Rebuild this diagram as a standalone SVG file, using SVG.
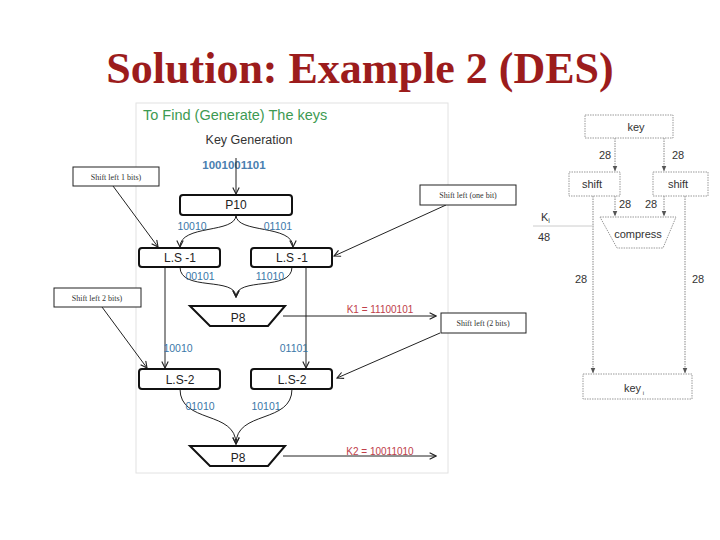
<svg xmlns="http://www.w3.org/2000/svg" width="720" height="540" viewBox="0 0 720 540">
<style>
.title{font-family:"Liberation Serif",serif;font-weight:bold;font-size:44px;fill:#9c1c1c}
.sans{font-family:"Liberation Sans",Arial,sans-serif}
.box{fill:#fff;stroke:#111;stroke-width:2}
.lbl{font-family:"Liberation Sans",Arial,sans-serif;font-size:12px;fill:#222}
.bits{font-family:"Liberation Sans",Arial,sans-serif;font-size:10.5px;fill:#3a78a8}
.key{font-family:"Liberation Sans",Arial,sans-serif;font-size:10px;fill:#c0404a}
.ann{fill:#fff;stroke:#222;stroke-width:1}
.annt{font-family:"Liberation Serif",serif;font-size:8px;fill:#333}
.ln{fill:none;stroke:#222;stroke-width:1}
.dl{fill:none;stroke:#888;stroke-width:1;stroke-dasharray:1.5 1}
.db{fill:#fff;stroke:#999;stroke-width:1;stroke-dasharray:1.5 1}
.rt{font-family:"Liberation Sans",Arial,sans-serif;font-size:11px;fill:#333}
</style>
<defs>
<marker id="ah" viewBox="0 0 10 10" refX="9" refY="5" markerWidth="8" markerHeight="8" orient="auto" markerUnits="userSpaceOnUse">
<path d="M1,1 L9,5 L1,9" fill="none" stroke="#222" stroke-width="1.4"/>
</marker>
<marker id="ahs" viewBox="0 0 10 10" refX="9" refY="5" markerWidth="6" markerHeight="6" orient="auto" markerUnits="userSpaceOnUse">
<path d="M0,1 L10,5 L0,9 Z" fill="#555"/>
</marker>
</defs>
<rect width="720" height="540" fill="#fff"/>
<text class="title" x="360" y="83" text-anchor="middle">Solution: Example 2 (DES)</text>

<g id="panel">
<rect x="136" y="103" width="312" height="370" fill="#fff" stroke="#e2e2e2" stroke-width="1"/>
<text x="143" y="120" class="sans" font-size="14.5" fill="#3d9a52">To Find (Generate) The keys</text>
<text x="249" y="144" class="sans" font-size="12.5" fill="#333" text-anchor="middle">Key Generation</text>
<text x="234" y="169" class="sans" font-size="11.5" font-weight="bold" fill="#4a80b0" text-anchor="middle">1001001101</text>
</g>

<g id="connectors">
<line class="ln" x1="236" y1="158" x2="236" y2="194" marker-end="url(#ah)"/>
<path class="ln" d="M236,215 C236,234 180,224 180,247" marker-end="url(#ah)"/>
<path class="ln" d="M236,215 C236,234 293,224 293,247" marker-end="url(#ah)"/>
<path class="ln" d="M180,267 C180,292 236,276 236,297" marker-end="url(#ah)"/>
<path class="ln" d="M292,267 C292,292 236,276 236,297" marker-end="url(#ah)"/>
<line class="ln" x1="165" y1="267" x2="165" y2="368" marker-end="url(#ah)"/>
<line class="ln" x1="306" y1="267" x2="306" y2="368" marker-end="url(#ah)"/>
<line class="ln" x1="283" y1="316" x2="436" y2="316" marker-end="url(#ah)"/>
<path class="ln" d="M180,389 C180,424 236,410 236,444" marker-end="url(#ah)"/>
<path class="ln" d="M292,389 C292,424 236,410 236,444" marker-end="url(#ah)"/>
<line class="ln" x1="283" y1="456" x2="436" y2="456" marker-end="url(#ah)"/>
<line class="ln" x1="113" y1="186" x2="158" y2="247" marker-end="url(#ah)"/>
<line class="ln" x1="446" y1="205" x2="334" y2="256" marker-end="url(#ah)"/>
<line class="ln" x1="102" y1="307" x2="147" y2="368" marker-end="url(#ah)"/>
<line class="ln" x1="440" y1="333" x2="337" y2="378" marker-end="url(#ah)"/>
<line class="dl" x1="615" y1="138" x2="615" y2="171" marker-end="url(#ahs)"/>
<line class="dl" x1="664" y1="138" x2="664" y2="171" marker-end="url(#ahs)"/>
<line class="dl" x1="615" y1="196" x2="615" y2="216" marker-end="url(#ahs)"/>
<line class="dl" x1="664" y1="196" x2="664" y2="216" marker-end="url(#ahs)"/>
<line class="dl" x1="593" y1="196" x2="593" y2="373" marker-end="url(#ahs)"/>
<line class="dl" x1="685" y1="196" x2="685" y2="373" marker-end="url(#ahs)"/>
<line x1="533" y1="226" x2="594" y2="226" stroke="#ccc" stroke-width="1"/>
</g>

<g id="labels">
<text class="bits" x="192" y="230" text-anchor="middle">10010</text>
<text class="bits" x="278" y="230" text-anchor="middle">01101</text>
<text class="bits" x="200" y="280" text-anchor="middle">00101</text>
<text class="bits" x="270" y="280" text-anchor="middle">11010</text>
<text class="key" x="380" y="313" text-anchor="middle">K1 =  11100101</text>
<text class="bits" x="178" y="352" text-anchor="middle">10010</text>
<text class="bits" x="294" y="352" text-anchor="middle">01101</text>
<text class="bits" x="200" y="410" text-anchor="middle">01010</text>
<text class="bits" x="266" y="410" text-anchor="middle">10101</text>
<text class="key" x="380" y="455" text-anchor="middle">K2 =  10011010</text>
<text class="rt" x="605" y="159" text-anchor="middle">28</text>
<text class="rt" x="678" y="159" text-anchor="middle">28</text>
<text class="rt" x="625" y="208" text-anchor="middle">28</text>
<text class="rt" x="651" y="208" text-anchor="middle">28</text>
<text class="rt" x="581" y="283" text-anchor="middle">28</text>
<text class="rt" x="698" y="283" text-anchor="middle">28</text>
<text class="rt" x="541" y="221" fill="#777">K<tspan font-size="7" dy="2">i</tspan></text>
<text class="rt" x="538" y="241">48</text>
</g>

<g id="p10"><rect class="box" x="180" y="195" width="112" height="20" rx="3"/><text class="lbl" x="236" y="209" text-anchor="middle">P10</text></g>
<g id="ls1-left"><rect class="box" x="139" y="248" width="81" height="19" rx="3"/><text class="lbl" x="180" y="262" text-anchor="middle" font-size="11">L.S -1</text></g>
<g id="ls1-right"><rect class="box" x="251" y="248" width="81" height="19" rx="3"/><text class="lbl" x="292" y="262" text-anchor="middle" font-size="11">L.S -1</text></g>
<g id="p8-1"><path class="box" d="M190,306 L285,306 L268,326 L210,326 Z"/><text class="lbl" x="238" y="322" text-anchor="middle" font-size="15">P8</text></g>
<g id="ls2-left"><rect class="box" x="139" y="369" width="81" height="20" rx="3"/><text class="lbl" x="180" y="384" text-anchor="middle" font-size="11">L.S-2</text></g>
<g id="ls2-right"><rect class="box" x="251" y="369" width="81" height="20" rx="3"/><text class="lbl" x="292" y="384" text-anchor="middle" font-size="11">L.S-2</text></g>
<g id="p8-2"><path class="box" d="M190,446 L285,446 L268,466 L210,466 Z"/><text class="lbl" x="238" y="462" text-anchor="middle" font-size="15">P8</text></g>

<g id="ann1"><rect class="ann" x="73" y="167" width="86" height="19"/><text class="annt" x="116" y="180" text-anchor="middle">Shift left 1 bits)</text></g>
<g id="ann2"><rect class="ann" x="420" y="185" width="96" height="20"/><text class="annt" x="468" y="198" text-anchor="middle">Shift left (one bit)</text></g>
<g id="ann3"><rect class="ann" x="54" y="288" width="87" height="19"/><text class="annt" x="97" y="301" text-anchor="middle">Shift left 2 bits)</text></g>
<g id="ann4"><rect class="ann" x="441" y="313" width="85" height="20"/><text class="annt" x="483" y="326" text-anchor="middle">Shift left (2 bits)</text></g>

<g id="key-top"><rect class="db" x="585" y="115" width="88" height="23"/><text class="rt" x="636" y="131" text-anchor="middle">key</text></g>
<g id="shift-left"><rect class="db" x="569" y="172" width="51" height="24"/><text class="rt" x="592" y="188" text-anchor="middle">shift</text></g>
<g id="shift-right"><rect class="db" x="653" y="172" width="55" height="24"/><text class="rt" x="678" y="188" text-anchor="middle">shift</text></g>
<g id="compress"><path class="db" d="M600,217 L676,217 L663,248 L617,248 Z"/><text class="rt" x="638" y="238" text-anchor="middle">compress</text></g>
<g id="key-bottom"><rect class="db" x="583" y="374" width="109" height="25"/><text class="rt" x="634" y="392" text-anchor="middle">key<tspan font-size="6" dy="3"> i</tspan></text></g>
</svg>
